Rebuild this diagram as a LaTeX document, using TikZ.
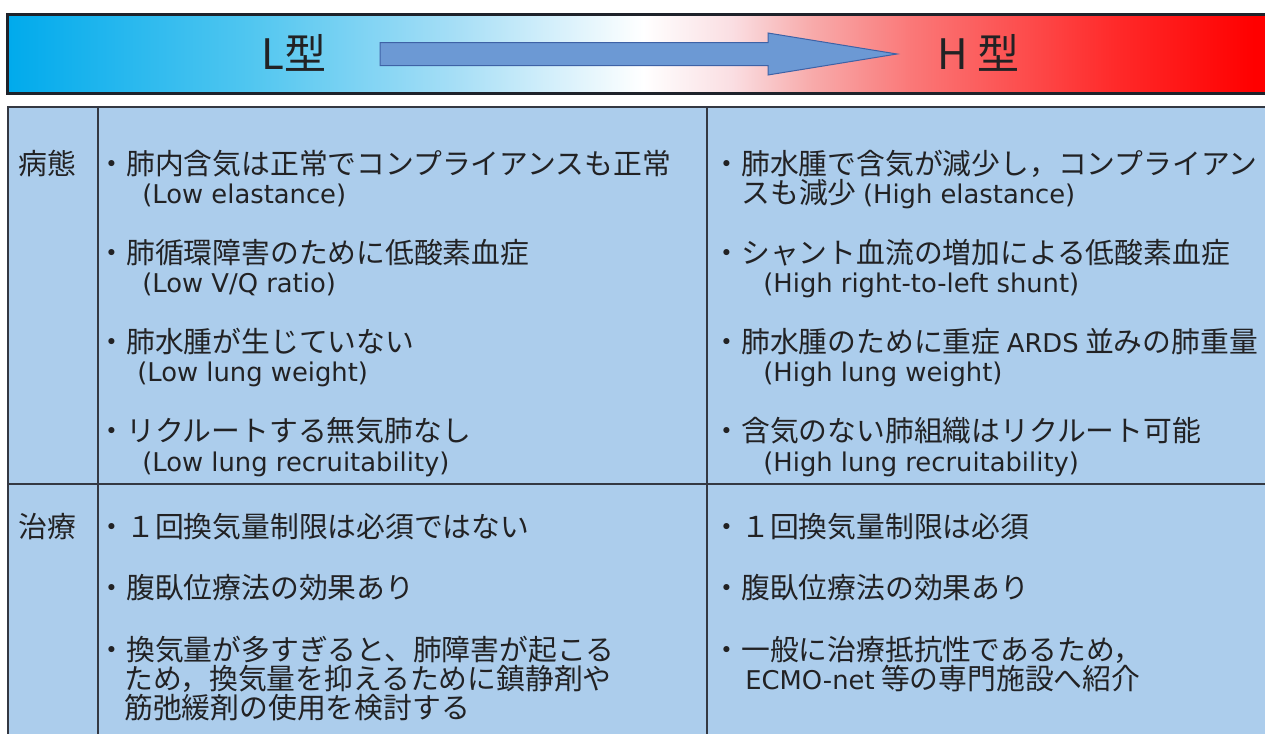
\documentclass[tikz,border=0pt]{standalone}
\usepackage{fontspec}
\newfontfamily\jpfont{Noto Sans CJK JP}
\newfontfamily\latfont{DejaVu Sans}
\newcommand\lat[1]{{\latfont\fontsize{12.9pt}{15pt}\selectfont #1}}
\usetikzlibrary{positioning}
\definecolor{cellfill}{RGB}{172,205,236}
\definecolor{gridline}{RGB}{52,56,66}
\definecolor{inktext}{RGB}{34,34,36}
\definecolor{arrowfill}{RGB}{108,153,212}
\definecolor{arrowedge}{RGB}{62,98,166}
\definecolor{bandedge}{RGB}{30,34,42}
\definecolor{bandA}{RGB}{0,170,236}
\definecolor{bandB}{RGB}{80,198,240}
\definecolor{bandC}{RGB}{165,222,246}
\definecolor{bandD}{RGB}{250,222,226}
\definecolor{bandE}{RGB}{248,172,172}
\definecolor{bandF}{RGB}{250,120,120}
\definecolor{bandG}{RGB}{255,42,42}
\definecolor{bandH}{RGB}{255,0,0}
\pgfdeclarehorizontalshading{bandshade}{100bp}{color(0bp)=(bandA); color(25bp)=(bandA); color(34.5bp)=(bandB); color(42.5bp)=(bandC); color(50bp)=(white); color(53.5bp)=(bandD); color(56.5bp)=(bandE); color(60.5bp)=(bandF); color(68.5bp)=(bandG); color(74bp)=(bandH); color(100bp)=(bandH)}
\tikzset{
    celltext/.style = {
        anchor=base west,
        inner sep=0pt,
        font=\jpfont\fontsize{14.4pt}{17pt}\selectfont,
        text=inktext
    },
    bandtitle/.style = {
        anchor=base west,
        inner sep=0pt,
        font=\jpfont\fontsize{21pt}{25pt}\selectfont,
        text=inktext
    },
    tablerule/.style = {
        draw=gridline,
        line width=1pt
    },
    band/.style = {
        draw=bandedge,
        line width=1.5pt,
        shading=bandshade
    },
    bigarrow/.style = {
        draw=arrowedge,
        fill=arrowfill,
        line width=0.5pt
    },
}

\begin{document}
\begin{tikzpicture}[x=0.5pt, y=-0.5pt]
            \useasboundingbox (0,0) rectangle (1265,734);
            \clip (0,0) rectangle (1265,734);

            % colour band with the L -> H arrow
            \path[band] (7,14) rectangle (1280,93);
            \path[bigarrow] (380,42.5) -- (768,42.5) -- (768,33) -- (897,54) -- (768,75) -- (768,65.5) -- (380,65.5) -- cycle;
            \node[bandtitle] (ltype) at (261,69) {L型};
            \node[bandtitle] (htype) at (937,69) {H 型};

            % table
            \fill[cellfill] (8,107) rectangle (1280,740);
            \draw[tablerule] (1280,107) -- (8,107) -- (8,740);
            \draw[tablerule] (98,107) -- (98,740);
            \draw[tablerule] (707,107) -- (707,740);
            \draw[tablerule] (8,484) -- (1280,484);

            \node[celltext] (patho) at (18,174) {病態};
            \node[celltext] (treat) at (18,537) {治療};

            % L type
            \node[celltext] (lp1) at (97,174) {・肺内含気は正常でコンプライアンスも正常};
            \node[celltext] (lp1e) at (142,203) {\lat{(Low elastance)}};
            \node[celltext] (lp2) at (97,263) {・肺循環障害のために低酸素血症};
            \node[celltext] (lp2e) at (142,292) {\lat{(Low V/Q ratio)}};
            \node[celltext] (lp3) at (97,352) {・肺水腫が生じていない};
            \node[celltext] (lp3e) at (137,381) {\lat{(Low lung weight)}};
            \node[celltext] (lp4) at (97,441) {・リクルートする無気肺なし};
            \node[celltext] (lp4e) at (142,471) {\lat{(Low lung recruitability)}};
            \node[celltext] (lt1) at (97,537) {・１回換気量制限は必須ではない};
            \node[celltext] (lt2) at (97,598) {・腹臥位療法の効果あり};
            \node[celltext] (lt3) at (97,660) {・換気量が多すぎると、肺障害が起こる};
            \node[celltext] (lt3b) at (124,689) {ため，換気量を抑えるために鎮静剤や};
            \node[celltext] (lt3c) at (124,718) {筋弛緩剤の使用を検討する};

            % H type
            \node[celltext] (hp1) at (712,174) {・肺水腫で含気が減少し，コンプライアン};
            \node[celltext] (hp1e) at (741,203) {スも減少 \lat{(High elastance)}};
            \node[celltext] (hp2) at (712,263) {・シャント血流の増加による低酸素血症};
            \node[celltext] (hp2e) at (763,292) {\lat{(High right-to-left shunt)}};
            \node[celltext] (hp3) at (712,352) {・肺水腫のために重症 \lat{ARDS} 並みの肺重量};
            \node[celltext] (hp3e) at (763,381) {\lat{(High lung weight)}};
            \node[celltext] (hp4) at (712,441) {・含気のない肺組織はリクルート可能};
            \node[celltext] (hp4e) at (763,471) {\lat{(High lung recruitability)}};
            \node[celltext] (ht1) at (712,537) {・１回換気量制限は必須};
            \node[celltext] (ht2) at (712,598) {・腹臥位療法の効果あり};
            \node[celltext] (ht3) at (712,660) {・一般に治療抵抗性であるため，};
            \node[celltext] (ht3b) at (745,689) {\lat{ECMO-net} 等の専門施設へ紹介};
        \end{tikzpicture}
\end{document}
